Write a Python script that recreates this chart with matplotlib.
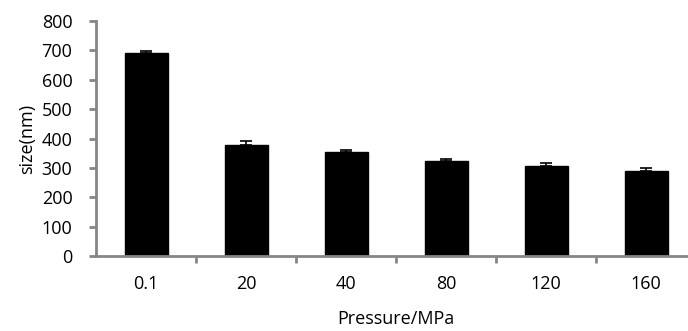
import numpy as np
import matplotlib
matplotlib.use("Agg")
import matplotlib.pyplot as plt

pressure = ["0.1", "20", "40", "80", "120", "160"]
size_nm = [690, 378, 353, 323, 306, 290]
size_err = [9, 12, 8, 8, 9, 10]

plt.rcParams['font.family'] = ['Open Sans', 'DejaVu Sans']
grey = "#868686"
fs = 13

fig = plt.figure(figsize=(6.88, 3.31), dpi=100)
ax = fig.add_axes([96 / 688, 75 / 331, 600 / 688, 235 / 331])

x = np.arange(len(pressure))
ax.bar(x, size_nm, width=0.43, color="black", edgecolor="black",
       yerr=[np.zeros(len(size_err)), size_err],
       error_kw=dict(ecolor="black", elinewidth=1.2, capsize=4, capthick=1.2))

ax.set_xlim(-0.5, len(pressure) - 0.5)
ax.set_ylim(0, 800)
ax.set_yticks(np.arange(0, 801, 100))
ax.set_xticks(x)
ax.set_xticklabels(pressure)
ax.set_xticks(np.arange(0.5, len(pressure) - 0.5, 1), minor=True)

for s in ["top", "right"]:
    ax.spines[s].set_visible(False)
for s in ["left", "bottom"]:
    ax.spines[s].set_color(grey)
    ax.spines[s].set_linewidth(2)

ax.tick_params(axis="x", which="major", length=0, pad=14, labelsize=fs)
ax.tick_params(axis="x", which="minor", length=5, width=2, color=grey, direction="out")
ax.tick_params(axis="y", length=5, width=2, color=grey, direction="out", pad=12, labelsize=fs)

ax.set_xlabel("Pressure/MPa", fontsize=fs, labelpad=12)
ax.set_ylabel("size(nm)", fontsize=fs, labelpad=4)

fig.savefig("out.png", dpi=100)
